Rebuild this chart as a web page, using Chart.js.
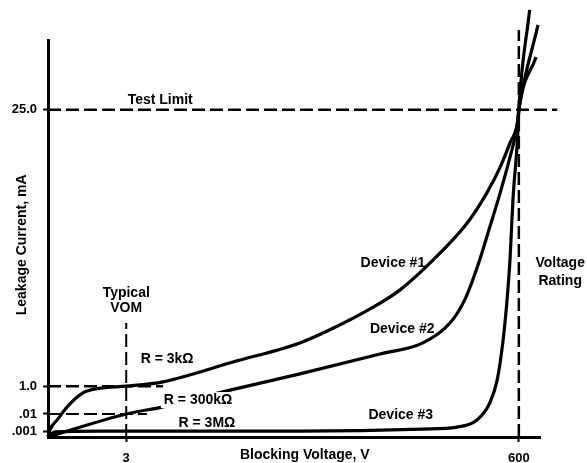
<!DOCTYPE html>
<html>
<head>
<meta charset="utf-8">
<script src="https://cdn.jsdelivr.net/npm/chart.js@4/dist/chart.umd.min.js"></script>
<style>
  html, body { margin: 0; padding: 0; background: #fff; }
  #wrap { width: 587px; height: 463px; }
</style>
</head>
<body>
<div id="wrap"><canvas id="leakChart" width="587" height="463"></canvas></div>
<script>
// schematic chart: both axes run 0..100 (percent of the drawn axis length)
const xTickValues = [15.9, 95.7];
const xTickLabels = ["3", "600"];
const yTickValues = [1.5, 5.8, 12.8, 82.4];
const yTickLabels = [".001", ".01", "1.0", "25.0"];

const device1X = [0, 0.4, 2.0, 3.9, 7.1, 10.6, 15.9, 23.4, 37.6, 51.2, 57.3, 66.1, 71.5, 78.3, 85.2, 89.2, 91.9, 93.9, 95.5, 95.7, 99.2];
const device1Y = [0, 1.8, 4.5, 7.6, 11.1, 12.3, 12.8, 13.9, 18.9, 23.7, 27.0, 32.7, 37.0, 44.6, 53.9, 61.5, 68.0, 74.1, 79.8, 82.4, 95.7];

const device2X = [0, 15.9, 23.4, 37.0, 51.2, 67.5, 76.2, 81.7, 84.8, 87.4, 89.8, 91.9, 93.9, 95.3, 95.7, 99.6];
const device2Y = [0, 5.8, 7.6, 11.8, 15.9, 20.9, 23.7, 28.7, 34.8, 43.3, 52.9, 61.5, 70.5, 78.1, 82.4, 103.8];

const device3X = [0, 1.4, 10.6, 51.2, 76.2, 83.1, 87.2, 89.8, 91.3, 92.5, 93.3, 93.9, 94.5, 95.5, 95.7, 97.9];
const device3Y = [0, 1.3, 1.5, 1.5, 2.0, 2.5, 4.3, 8.6, 14.4, 24.4, 34.5, 44.6, 59.7, 76.6, 82.4, 107.6];

// dashed reference lines
const testLimitX = [0, 103.5];
const testLimitY = [82.4, 82.4];
const oneMaX = [0, 23.4];
const oneMaY = [12.8, 12.8];
const hundredthMaX = [0, 20.1];
const hundredthMaY = [5.8, 5.8];
const vomX = [15.9, 15.9];
const vomY = [0, 28.7];
const ratingX = [95.7, 95.7];
const ratingY = [0, 102.5];

function pts(xs, ys) {
  return xs.map((x, i) => ({ x: x, y: ys[i] }));
}

function curve(label, xs, ys) {
  return {
    label: label,
    data: pts(xs, ys),
    borderColor: "#000",
    borderWidth: 3.2,
    pointRadius: 0,
    cubicInterpolationMode: "monotone",
    clip: false
  };
}

function dashed(label, xs, ys, width) {
  return {
    label: label,
    data: pts(xs, ys),
    borderColor: "#000",
    borderWidth: width,
    borderDash: [13, 5],
    pointRadius: 0,
    clip: false
  };
}

// text notes, placed in axis units
const notes = [
  { text: "Test Limit", x: 22.8, y: 84.9 },
  { text: "Typical", x: 15.9, y: 36.3 },
  { text: "VOM", x: 15.9, y: 32.5 },
  { text: "R = 3k\u03A9", x: 24.2, y: 19.6 },
  { text: "R = 300k\u03A9", x: 30.5, y: 9.3, box: true },
  { text: "R = 3M\u03A9", x: 32.3, y: 3.5 },
  { text: "Device #1", x: 70.1, y: 43.8 },
  { text: "Device #2", x: 72.0, y: 27.2 },
  { text: "Device #3", x: 71.7, y: 5.5 },
  { text: "Voltage", x: 104.1, y: 43.8 },
  { text: "Rating", x: 104.1, y: 39.3 },
  { text: "Blocking Voltage, V", x: 52.2, y: -4.5 }
];

const notesPlugin = {
  id: "notes",
  afterDatasetsDraw(chart) {
    const ctx = chart.ctx;
    const xs = chart.scales.x;
    const ys = chart.scales.y;
    ctx.save();
    ctx.font = "bold 14px 'Liberation Sans', Arial, sans-serif";
    ctx.textAlign = "center";
    ctx.textBaseline = "middle";
    ctx.fillStyle = "#000";
    notes.forEach(n => {
      const px = xs.getPixelForValue(n.x);
      const py = ys.getPixelForValue(n.y);
      if (n.box) {
        const w = ctx.measureText(n.text).width;
        ctx.fillStyle = "#fff";
        ctx.fillRect(px - w / 2 - 3, py - 8, w + 6, 16);
        ctx.fillStyle = "#000";
      }
      ctx.fillText(n.text, px, py);
    });
    // rotated y-axis title
    ctx.translate(xs.getPixelForValue(-5.3), ys.getPixelForValue(48.4));
    ctx.rotate(-Math.PI / 2);
    ctx.fillText("Leakage Current, mA", 0, 0);
    ctx.restore();
  }
};

new Chart(document.getElementById("leakChart"), {
  type: "line",
  data: {
    datasets: [
      curve("Device #1", device1X, device1Y),
      curve("Device #2", device2X, device2Y),
      curve("Device #3", device3X, device3Y),
      dashed("Test Limit", testLimitX, testLimitY, 2.5),
      dashed("1.0 mA", oneMaX, oneMaY, 2.5),
      dashed(".01 mA", hundredthMaX, hundredthMaY, 2),
      dashed("Typical VOM", vomX, vomY, 2),
      dashed("Voltage Rating", ratingX, ratingY, 2.5)
    ]
  },
  options: {
    responsive: false,
    animation: false,
    layout: { padding: { top: 40, right: 47, left: 0, bottom: 0 } },
    plugins: {
      legend: { display: false },
      tooltip: { enabled: false }
    },
    scales: {
      x: {
        type: "linear",
        min: 0,
        max: 100,
        afterFit: s => { s.height = 26; },
        afterBuildTicks: s => { s.ticks = xTickValues.map(v => ({ value: v })); },
        border: { color: "#000", width: 3 },
        grid: { drawOnChartArea: false, tickLength: 5, tickWidth: 2, color: "#000" },
        ticks: {
          padding: 9,
          color: "#000",
          font: { family: "'Liberation Sans', Arial, sans-serif", size: 13, weight: "bold" },
          callback: (v, i) => xTickLabels[i]
        }
      },
      y: {
        type: "linear",
        min: 0,
        max: 100,
        afterFit: s => { s.width = 48; },
        afterBuildTicks: s => { s.ticks = yTickValues.map(v => ({ value: v })); },
        border: { color: "#000", width: 3 },
        grid: { drawOnChartArea: false, tickLength: 5, tickWidth: 2, color: "#000" },
        ticks: {
          padding: 6,
          color: "#000",
          font: { family: "'Liberation Sans', Arial, sans-serif", size: 13, weight: "bold" },
          callback: (v, i) => yTickLabels[i]
        }
      }
    }
  },
  plugins: [notesPlugin]
});
</script>
</body>
</html>
